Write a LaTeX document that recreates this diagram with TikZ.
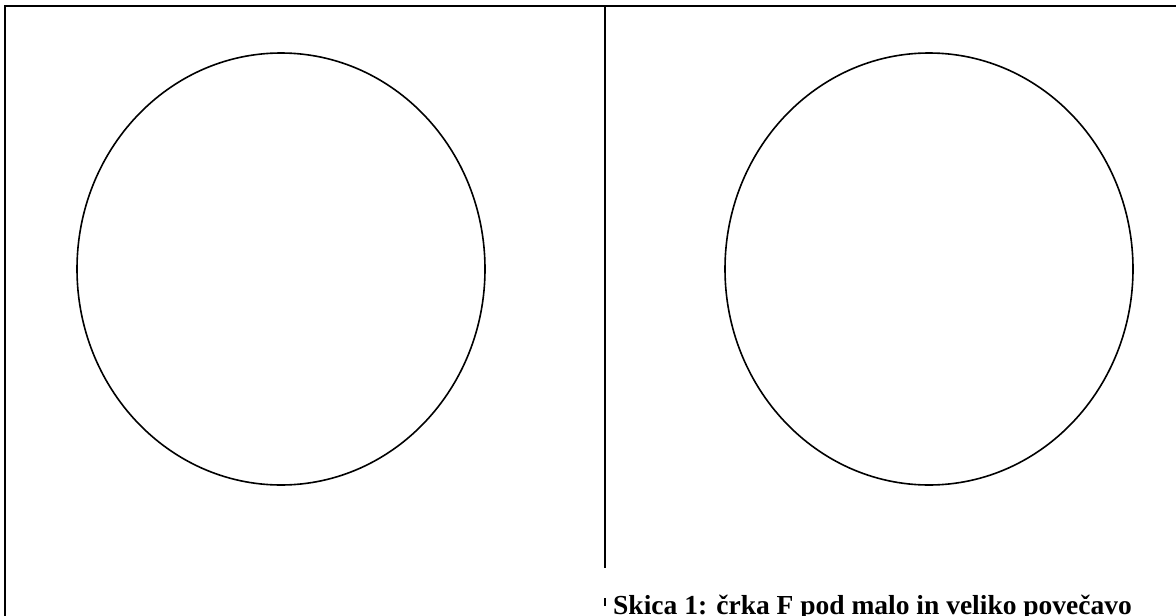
\documentclass[tikz,border=0pt]{standalone}
\usepackage{fontspec}
\setmainfont{Liberation Serif}

\begin{document}
\begin{tikzpicture}[x=1pt,y=-1pt]
    \useasboundingbox (0,0) rectangle (1176,616);
    \clip (0,0) rectangle (1176,616);
    \fill[white] (0,0) rectangle (1176,616);

    % okvir in delilna crta
    \draw[line width=2.4] (5,616) -- (5,6) -- (1176,6);
    \draw[line width=1.8] (605,6) -- (605,568);
    \draw[line width=1.8] (605,598) -- (605,606);

    % krogla pod malo povecavo (levo) in pod veliko povecavo (desno)
    \coordinate (L) at (281,269);
    \coordinate (R) at (929,269);
    \draw[line width=1.6] (L) ellipse [x radius=204, y radius=216];
    \draw[line width=1.6] (R) ellipse [x radius=204, y radius=216];

    \node[anchor=base west, inner sep=0, font=\fontsize{27.5}{32}\selectfont\bfseries] (skica) at (613,614) {Skica 1: črka F pod malo in veliko povečavo};
\end{tikzpicture}
\end{document}
